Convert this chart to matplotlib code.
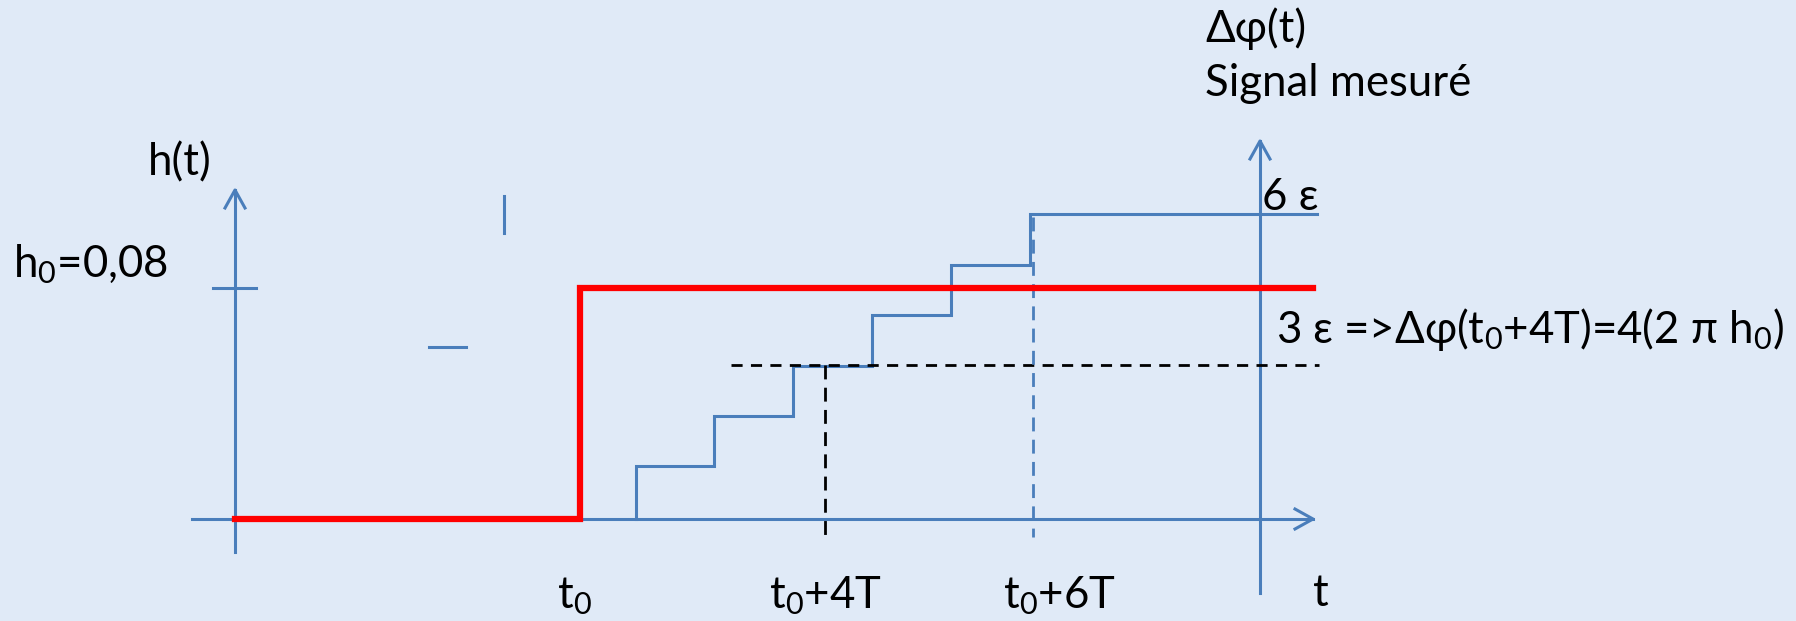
import matplotlib
matplotlib.use("Agg")
import matplotlib.pyplot as plt

# canvas in pixel units (y grows downward)
W, H = 1796, 621
BG = "#e0eaf7"
BLUE = "#4a7ebb"
RED = "#ff0000"

# axes of the two diagrams
h_axis_x = 235
h_axis_y = (552, 190)
t_axis_y = 519
t_axis_x = (192, 1313)
phi_axis_x = 1260
phi_axis_y = (593, 141)
h0_level = 288

# h(t): step of gravitational wave amplitude
t0 = 580
h_end = 1313

# measured phase: staircase
step_t = [636, 714, 793, 872, 951, 1030]
step_level = [466, 416, 366, 315, 265, 214]
stair_end = 1317

# guide lines
level_3eps = 365
guide_3eps_x = (731, 1319)
t_4T = 825
t_6T = 1033
guide_bottom = 537

plt.rcParams['font.family'] = ['Lato', 'DejaVu Sans']
plt.rcParams['mathtext.fontset'] = 'custom'
plt.rcParams['mathtext.rm'] = 'Lato'
plt.rcParams['mathtext.it'] = 'Lato'
plt.rcParams['mathtext.default'] = 'regular'

fig = plt.figure(figsize=(W / 100, H / 100), dpi=100)
fig.patch.set_facecolor(BG)
ax = fig.add_axes([0, 0, 1, 1])
ax.set_xlim(0, W)
ax.set_ylim(H, 0)
ax.axis('off')


def arrow_head(x, y, direction):
    # open chevron arrow head
    if direction == 'up':
        ax.plot([x - 10, x, x + 10], [y + 18, y, y + 18], color=BLUE, lw=2.2)
    else:
        ax.plot([x - 18, x, x - 18], [y - 10, y, y + 10], color=BLUE, lw=2.2)


# axes
ax.plot([h_axis_x, h_axis_x], h_axis_y, color=BLUE, lw=2.2)
arrow_head(h_axis_x, h_axis_y[1], 'up')
ax.plot([213, 256], [h0_level, h0_level], color=BLUE, lw=2.2)
ax.plot(t_axis_x, [t_axis_y, t_axis_y], color=BLUE, lw=2.2)
arrow_head(t_axis_x[1], t_axis_y, 'right')
ax.plot([phi_axis_x, phi_axis_x], phi_axis_y, color=BLUE, lw=2.2)
arrow_head(phi_axis_x, phi_axis_y[1], 'up')

# stray marks
ax.plot([504, 504], [196, 233], color=BLUE, lw=2.2)
ax.plot([429, 466], [347, 347], color=BLUE, lw=2.2)

# staircase
xs = [step_t[0]]
ys = [t_axis_y]
for tx, lv in zip(step_t, step_level):
    xs += [tx, tx]
    ys += [ys[-1], lv]
xs.append(stair_end)
ys.append(step_level[-1])
ax.plot(xs, ys, color=BLUE, lw=2.2, solid_joinstyle='miter')

# guides
ax.plot(guide_3eps_x, [level_3eps, level_3eps], color='black', lw=2,
        dashes=(4, 3))
ax.plot([t_4T, t_4T], [level_3eps, guide_bottom], color='black', lw=2,
        dashes=(5, 3))
ax.plot([t_6T, t_6T], [step_level[-1] + 3, guide_bottom], color=BLUE, lw=2,
        dashes=(5, 3))

# h(t) step
ax.plot([h_axis_x, t0, t0, h_end], [t_axis_y, t_axis_y, h0_level, h0_level],
        color=RED, lw=4.5, solid_joinstyle='miter')

fs = 31.5
txt = dict(fontsize=fs, color='black', va='baseline', ha='left')
ax.text(148, 175, 'h(t)', **txt)
ax.text(13, 277, r'h$_0$=0,08', **txt)
ax.text(1205, 42, 'Δφ(t)', **txt)
ax.text(1205, 96, 'Signal mesuré', **txt)
ax.text(1262, 210, '6 ε', **txt)
ax.text(1276, 343, r'3 ε =>Δφ(t$_0$+4T)=4(2 π h$_0$)', **txt)
ax.text(557, 608, r't$_0$', **txt)
ax.text(769, 608, r't$_0$+4T', **txt)
ax.text(1003, 608, r't$_0$+6T', **txt)
ax.text(1313, 606, 't', **txt)

fig.savefig('out.png', dpi=100, facecolor=BG)
